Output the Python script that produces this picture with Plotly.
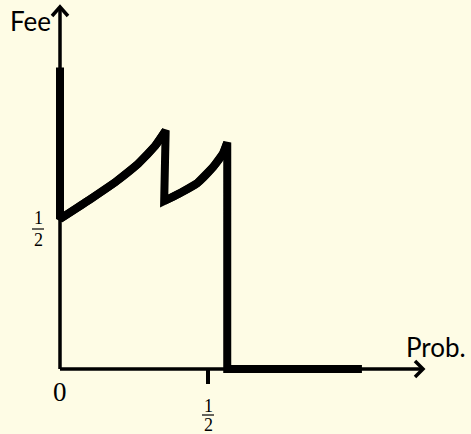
import plotly.graph_objects as go

# ---- data ----
fee_x = [0.0, 0.0, 0.095, 0.186, 0.264, 0.321, 0.357, 0.352, 0.405, 0.463, 0.517, 0.551, 0.565, 0.565, 1.02]
fee_y = [1.005, 0.5, 0.561, 0.622, 0.684, 0.743, 0.795, 0.56, 0.586, 0.619, 0.673, 0.719, 0.755, 0.0, 0.0]

x_tick_vals = [0, 0.5]
y_tick_vals = [0.5]
x_title = "Prob."
y_title = "Fee"

W, H = 471, 434
X0PX, XS = 60, 296      # pixel of x=0, pixels per unit
Y0PX, YS = 369, 300     # pixel of y=0 (from top), pixels per unit


def px2x(p):
    return (p - X0PX) / XS


def px2y(p):
    return (Y0PX - p) / YS


BG = "#FEFCE5"
fig = go.Figure()

# full piecewise line (sharp corners)
fig.add_trace(go.Scatter(
    x=fee_x, y=fee_y, mode="lines",
    line=dict(color="black", width=8),
    hoverinfo="skip", showlegend=False,
))
# smooth overlays of the two curved pieces
for a, b in [(1, 7), (7, 13)]:
    fig.add_trace(go.Scatter(
        x=fee_x[a:b], y=fee_y[a:b], mode="lines",
        line=dict(color="black", width=8, shape="spline", smoothing=0.8),
        hoverinfo="skip", showlegend=False,
    ))

shapes = []
# axes
shapes.append(dict(type="line", x0=0, y0=0, x1=0, y1=px2y(8), line=dict(color="black", width=3.5)))
shapes.append(dict(type="line", x0=0, y0=0, x1=px2x(421), y1=0, line=dict(color="black", width=3.5)))
# arrow heads
def path_px(pts):
    s = "M {:.5f},{:.5f}".format(px2x(pts[0][0]), px2y(pts[0][1]))
    for p in pts[1:]:
        s += " L {:.5f},{:.5f}".format(px2x(p[0]), px2y(p[1]))
    return s

shapes.append(dict(type="path", path=path_px([(52, 16), (60, 7), (68, 16)]),
                   line=dict(color="black", width=3.5)))
shapes.append(dict(type="path", path=path_px([(415, 361), (423, 369), (415, 377)]),
                   line=dict(color="black", width=3.5)))
# tick at x = 1/2
shapes.append(dict(type="line", x0=x_tick_vals[1], y0=0, x1=x_tick_vals[1], y1=px2y(384),
                   line=dict(color="black", width=4)))
# fraction bars
shapes.append(dict(type="line", x0=px2x(32), y0=px2y(229), x1=px2x(44), y1=px2y(229),
                   line=dict(color="black", width=1.2)))
shapes.append(dict(type="line", x0=px2x(202), y0=px2y(415), x1=px2x(214), y1=px2y(415),
                   line=dict(color="black", width=1.2)))

serif = "Liberation Serif"
sans = "Lato"
ann = []
def add_text(t, xpx, ypx, size, fam, xanchor="center"):
    ann.append(dict(text=t, x=px2x(xpx), y=px2y(ypx), xref="x", yref="y",
                    showarrow=False, xanchor=xanchor, yanchor="middle",
                    font=dict(family=fam, size=size, color="black")))

add_text(y_title, 8, 21, 26, sans, "left")
add_text(x_title, 404, 347, 26, sans, "left")
add_text(str(x_tick_vals[0]), 60, 392, 27, serif)
add_text("1", 38, 218, 18, serif)
add_text("2", 38, 240, 18, serif)
add_text("1", 208, 406, 18, serif)
add_text("2", 208, 425, 18, serif)

fig.update_layout(
    width=W, height=H, autosize=False,
    margin=dict(l=0, r=0, t=0, b=0),
    paper_bgcolor=BG, plot_bgcolor=BG,
    xaxis=dict(range=[px2x(0), px2x(W)], visible=False, fixedrange=True),
    yaxis=dict(range=[px2y(H), px2y(0)], visible=False, fixedrange=True),
    shapes=shapes, annotations=ann, showlegend=False,
)

fig.write_html(
    "out.html",
    config={"displayModeBar": False},
    post_script=(
        "document.body.style.margin='0';"
        "document.body.style.padding='0';"
        "document.body.style.overflow='hidden';"
        "document.body.style.background='" + BG + "';"
    ),
)
